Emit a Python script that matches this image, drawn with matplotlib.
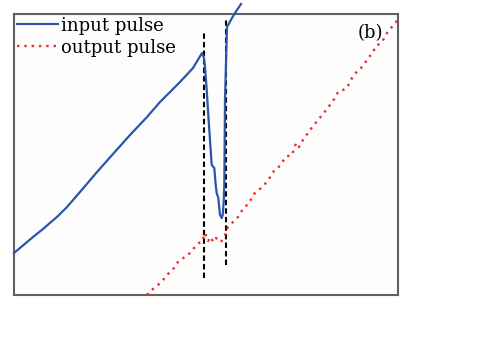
import matplotlib
matplotlib.use("Agg")
import matplotlib.pyplot as plt

# input pulse (blue solid)
t_in = [0, 19, 29, 44, 53, 66, 83, 99, 116, 133, 146, 166, 179, 188,
        190, 191, 192.7, 194.3, 197.7, 200.3, 201.7, 202.7, 204.3, 206, 207.7,
        208.7, 209.7, 210.3, 211, 213, 218, 221, 227]
a_in = [42, 58, 66, 79, 88, 103, 123, 141, 160, 178, 193, 213, 227, 242,
        237, 228, 205, 180, 130, 127, 110, 102, 97, 80, 77,
        80, 93, 110, 195, 268, 277, 282, 291]

# output pulse (red dotted)
t_out = [133, 136, 139, 144, 149, 153, 160, 161, 164, 167, 173, 176, 180, 185,
         188, 191, 194, 197, 199, 202, 207, 211, 214, 219, 224, 229, 235, 240,
         245, 251, 257, 260, 264, 269, 273, 277, 280, 282, 285, 289, 296, 304,
         313, 321, 324, 329, 333, 338, 344, 347, 351, 355, 359, 361, 368, 373,
         377, 382, 384]
a_out = [0, 4, 6, 10, 15, 20, 27, 29, 33, 35, 40, 42, 47, 52,
         53, 62, 54, 58, 53, 57, 53, 60, 68, 73, 78, 86, 92, 101,
         105, 111, 119, 124, 127, 134, 139, 139, 145, 152, 148, 155, 165, 175,
         186, 197, 203, 205, 207, 217, 225, 227, 232, 238, 242, 248, 253, 262,
         267, 273, 277]

# vertical dashed markers: time, bottom, top
mark_t = [190, 212]
mark_lo = [17, 30]
mark_hi = [264, 277]

labels = ["input pulse", "output pulse"]
panel = "(b)"

fig = plt.figure(figsize=(4.78, 3.4), dpi=100)
fig.patch.set_facecolor("white")
ax = fig.add_axes([14/478, 1-295/340, 384/478, 281/340])
ax.set_facecolor("#fdfdfd")

ax.plot(t_in, a_in, color="#2b55aa", lw=1.6, label=labels[0], clip_on=False, zorder=3)
ax.plot(t_out, a_out, color="#ee2a2a", lw=1.7, linestyle=(0, (1, 2.1)),
        label=labels[1], zorder=3)
for t, lo, hi in zip(mark_t, mark_lo, mark_hi):
    ax.plot([t, t], [lo, hi], color="black", lw=1.5, linestyle=(0, (2.6, 1.5)), zorder=2)

ax.set_xlim(0, 384)
ax.set_ylim(0, 281)
ax.set_xticks([])
ax.set_yticks([])
for s in ax.spines.values():
    s.set_color("#606060")
    s.set_linewidth(1.5)

leg = ax.legend(loc="upper left", bbox_to_anchor=(0.0, 1.0), frameon=False,
                prop={"family": "DejaVu Serif", "size": 13},
                handlelength=2.3, handletextpad=0.15, labelspacing=0.22,
                borderaxespad=0.05, borderpad=0.1)
ax.text(369, 262, panel, ha="right", va="center", family="DejaVu Serif", fontsize=13)

fig.savefig("out.png", dpi=100)
